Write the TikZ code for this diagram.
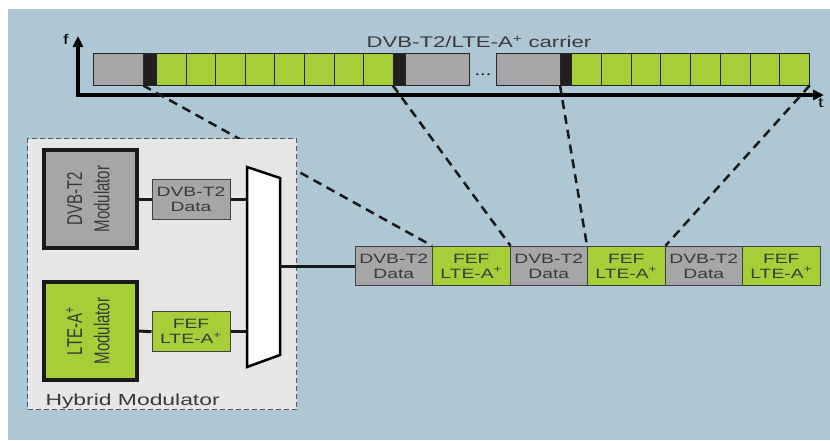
\documentclass[tikz,border=0pt]{standalone}
\usepackage{fontspec}
\usepackage{graphicx}
\setmainfont{Liberation Sans}
\newfontfamily\widesf{Liberation Sans}[FakeStretch=1.43]
\usetikzlibrary{arrows.meta}

\definecolor{panelblue}{RGB}{174,199,212}
\definecolor{lteg}{RGB}{166,206,57}
\definecolor{dvbgray}{RGB}{166,166,169}
\definecolor{hybfill}{RGB}{230,230,230}
\definecolor{txtgray}{RGB}{58,58,58}
\definecolor{marker}{RGB}{35,31,32}

% two-line label standing on its side
\newcommand{\upstack}[2]{\rotatebox{90}{\scalebox{1}[1.43]{\begin{tabular}{@{}c@{}}#1\\#2\end{tabular}}}}

\begin{document}
\begin{tikzpicture}[x=1pt,y=-1pt,
  cell/.style={draw=black!85, line width=0.8pt, inner sep=0pt, minimum height=32pt, anchor=west},
  frame/.style={draw=black!75, line width=1pt, inner sep=0pt, minimum width=77.5pt, minimum height=39.5pt,
    align=center, text=txtgray, font=\fontsize{13.5}{15}\selectfont\widesf},
  databox/.style={frame, minimum width=78pt, minimum height=40pt},
  modbox/.style={draw=black!90, line width=4pt, inner sep=0pt, minimum width=93.3pt, minimum height=98pt,
    text=txtgray, font=\fontsize{15}{19}\selectfont},
  link/.style={line width=3pt, draw=black!90},
  fefline/.style={line width=2.5pt, draw=black!90, dash pattern=on 9pt off 6pt},
  axis/.style={line width=3.5pt, line join=miter, {Triangle[length=11pt,width=10pt]}-{Triangle[length=11pt,width=10pt]}},
  mux/.style={fill=white, draw=black, line width=2.5pt, line join=miter}]
\useasboundingbox (0,0) rectangle (830,440);
\fill[white] (0,0) rectangle (830,440);
\fill[panelblue] (8,9) rectangle (830,440);

% time/frequency axes
\coordinate (ftip) at (78,36);
\coordinate (ttip) at (824,95);
\draw[axis] (ftip) |- (ttip);
\node (flabel) at (66,39) {\fontsize{14}{14}\selectfont\widesf f};
\node (tlabel) at (821,103) {\fontsize{14}{14}\selectfont\widesf t};
\node[anchor=base, text=txtgray, font=\fontsize{15.5}{16}\selectfont\widesf] (title) at (479,47.5)
  {DVB-T2/LTE-A\textsuperscript{+} carrier};

% carrier, first part
\node[cell, fill=dvbgray, minimum width=50pt] (c1gray) at (93,69) {};
\node[cell, fill=marker, minimum width=13pt] (c1mark) at (143,69) {};
\foreach \i in {1,...,8}
  \node[cell, fill=lteg, minimum width=29.6pt] (c1g\i) at ({156+(\i-1)*29.6},69) {};
\node[cell, fill=marker, minimum width=12pt] (c1mark2) at (392.8,69) {};
\node[cell, fill=dvbgray, minimum width=64pt] (c1gray2) at (404.8,69) {};
\node[anchor=base, font=\fontsize{14}{14}\selectfont\widesf] (dots) at (483,75) {...};
% carrier, second part
\node[cell, fill=dvbgray, minimum width=64pt] (c2gray) at (496,69) {};
\node[cell, fill=marker, minimum width=11pt] (c2mark) at (560,69) {};
\foreach \i in {1,...,8}
  \node[cell, fill=lteg, minimum width=29.75pt] (c2g\i) at ({571+(\i-1)*29.75},69) {};

% multiplexed frames
\foreach \k in {0,1,2} {
  \node[frame, fill=dvbgray] (fd\k) at ({355+\k*155+38.75},266) {DVB-T2\\Data};
  \node[frame, fill=lteg] (ff\k) at ({355+\k*155+116.25},266) {FEF\\LTE-A\textsuperscript{+}};
}

\draw[fefline] (c1mark.south west) -- (ff0.north west);
\draw[fefline] (c1mark2.south west) -- (ff0.north east);
\draw[fefline] (c2mark.south west) -- (ff1.north west);
\draw[fefline] (c2g8.south east) -- (ff1.north east);

% hybrid modulator
\node[fill=hybfill, draw=black!65, line width=1pt, dash pattern=on 5pt off 3pt,
  minimum width=269pt, minimum height=271pt, anchor=north west] (hyb) at (27,138) {};
\node[anchor=base west, text=txtgray, font=\fontsize{16}{16}\selectfont\widesf] (hyblabel) at (42,405)
  {Hybrid Modulator};

\node[modbox, fill=dvbgray] (dvbmod) at (90.3,199) {\upstack{DVB-T2}{Modulator}};
\node[modbox, fill=lteg] (ltemod) at (90.3,331) {\upstack{LTE-A\textsuperscript{+}}{Modulator}};
\node[databox, fill=dvbgray] (dvbdata) at (191,199) {DVB-T2\\Data};
\node[databox, fill=lteg] (ltedata) at (191,331.7) {FEF\\LTE-A\textsuperscript{+}};

\coordinate (mtl) at (247,167);
\coordinate (mtr) at (280,178);
\coordinate (mbr) at (280,355);
\coordinate (mbl) at (247,367);

\draw[link] (dvbmod.east) -- (dvbdata.west);
\draw[link] (dvbdata.east) -- (dvbdata.east -| mtl);
\draw[link] (ltemod.east) -- (ltedata.west);
\draw[link] (ltedata.east) -- (ltedata.east -| mtl);
\draw[link] (fd0.west -| mtr) -- (fd0.west);
\draw[mux] (mtl) -- (mtr) -- (mbr) -- (mbl) -- cycle;
\end{tikzpicture}
\end{document}
